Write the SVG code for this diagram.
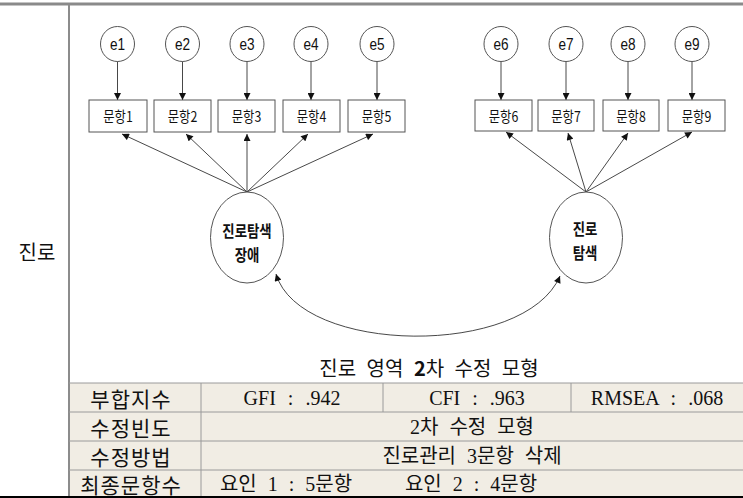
<svg xmlns="http://www.w3.org/2000/svg" width="743" height="498" viewBox="0 0 743 498">
<style>
.err{fill:#fff;stroke:#555;stroke-width:1}
.box{fill:#fff;stroke:#555;stroke-width:1}
.lat{fill:#fff;stroke:#555;stroke-width:1}
.et{font-family:"Liberation Sans",Arial,sans-serif;font-size:17px;fill:#111;text-anchor:middle;dominant-baseline:central}
.bt{font-family:"Noto Sans CJK KR","Liberation Sans",sans-serif;font-size:14.5px;fill:#111;text-anchor:middle;dominant-baseline:central}
.lt{font-family:"Noto Sans CJK KR",sans-serif;font-size:16px;font-weight:bold;fill:#111;text-anchor:middle;dominant-baseline:central}
.conn line,.conn path{stroke:#333;stroke-width:0.9;fill:none}
.tk{font-family:"Noto Sans CJK KR",sans-serif;font-size:21px;fill:#111;text-anchor:middle;dominant-baseline:central;letter-spacing:1px}
.tl{font-family:"Liberation Serif","Noto Sans CJK KR",serif;font-size:20px;fill:#111;text-anchor:middle;dominant-baseline:central;word-spacing:7px}
.tm{font-family:"Liberation Serif","Noto Sans CJK KR",serif;font-size:20px;fill:#111;text-anchor:middle;dominant-baseline:central;word-spacing:6px}
.grid{stroke:#9a9a9a;stroke-width:1}
</style>
<defs>
<marker id="ah" viewBox="0 0 10 10" refX="10" refY="5" markerWidth="8" markerHeight="7" markerUnits="userSpaceOnUse" orient="auto-start-reverse">
<path d="M0,0 L10,5 L0,10 z" fill="#111"/>
</marker>
</defs>

<!-- frame -->
<rect x="0" y="2.5" width="743" height="3" fill="#8a8a8a"/>
<rect x="69" y="383" width="674" height="113" fill="#f1ede4"/>
<line x1="69" y1="5" x2="69" y2="496" stroke="#8c8c8c" stroke-width="2"/>
<g class="grid">
<line x1="69" y1="383" x2="743" y2="383"/>
<line x1="69" y1="412" x2="743" y2="412"/>
<line x1="69" y1="441" x2="743" y2="441"/>
<line x1="69" y1="470" x2="743" y2="470"/>
<line x1="201" y1="383" x2="201" y2="496"/>
<line x1="383" y1="383" x2="383" y2="412"/>
<line x1="571" y1="383" x2="571" y2="412"/>
</g>
<rect x="0" y="496" width="743" height="2" fill="#000"/>

<text x="37" y="251" class="tk" style="font-size:20px;letter-spacing:0">진로</text>

<!-- connectors -->
<g class="conn" id="connectors">
<line x1="117.5" y1="61" x2="117.5" y2="100" marker-end="url(#ah)"/>
<line x1="182.5" y1="61" x2="182.5" y2="100" marker-end="url(#ah)"/>
<line x1="247" y1="61" x2="247" y2="100" marker-end="url(#ah)"/>
<line x1="311" y1="61" x2="311" y2="100" marker-end="url(#ah)"/>
<line x1="377" y1="61" x2="377" y2="100" marker-end="url(#ah)"/>
<line x1="501" y1="61" x2="501" y2="100" marker-end="url(#ah)"/>
<line x1="566" y1="61" x2="566" y2="100" marker-end="url(#ah)"/>
<line x1="628" y1="61" x2="628" y2="100" marker-end="url(#ah)"/>
<line x1="692" y1="61" x2="692" y2="100" marker-end="url(#ah)"/>

<line x1="247" y1="192" x2="122" y2="134" marker-end="url(#ah)"/>
<line x1="247" y1="192" x2="186" y2="134" marker-end="url(#ah)"/>
<line x1="247" y1="192" x2="247" y2="134" marker-end="url(#ah)"/>
<line x1="247" y1="192" x2="308" y2="134" marker-end="url(#ah)"/>
<line x1="247" y1="192" x2="373" y2="134" marker-end="url(#ah)"/>

<line x1="586" y1="192" x2="506" y2="132" marker-end="url(#ah)"/>
<line x1="586" y1="192" x2="568" y2="133" marker-end="url(#ah)"/>
<line x1="586" y1="192" x2="628" y2="133" marker-end="url(#ah)"/>
<line x1="586" y1="192" x2="692" y2="132" marker-end="url(#ah)"/>

<path d="M276,274 C300,355 525,358 560,276" marker-start="url(#ah)" marker-end="url(#ah)"/>
</g>

<!-- error nodes -->
<g id="e1"><ellipse class="err" cx="117.5" cy="44" rx="17" ry="17.5"/><text class="et" transform="translate(117.5,44) scale(0.8,1)">e1</text></g>
<g id="e2"><ellipse class="err" cx="182.5" cy="44" rx="17" ry="17.5"/><text class="et" transform="translate(182.5,44) scale(0.8,1)">e2</text></g>
<g id="e3"><ellipse class="err" cx="247" cy="44" rx="17" ry="17.5"/><text class="et" transform="translate(247,44) scale(0.8,1)">e3</text></g>
<g id="e4"><ellipse class="err" cx="311" cy="44" rx="17" ry="17.5"/><text class="et" transform="translate(311,44) scale(0.8,1)">e4</text></g>
<g id="e5"><ellipse class="err" cx="377" cy="44" rx="17" ry="17.5"/><text class="et" transform="translate(377,44) scale(0.8,1)">e5</text></g>
<g id="e6"><ellipse class="err" cx="501" cy="44" rx="17" ry="17.5"/><text class="et" transform="translate(501,44) scale(0.8,1)">e6</text></g>
<g id="e7"><ellipse class="err" cx="566" cy="44" rx="17" ry="17.5"/><text class="et" transform="translate(566,44) scale(0.8,1)">e7</text></g>
<g id="e8"><ellipse class="err" cx="628" cy="44" rx="17" ry="17.5"/><text class="et" transform="translate(628,44) scale(0.8,1)">e8</text></g>
<g id="e9"><ellipse class="err" cx="692" cy="44" rx="17" ry="17.5"/><text class="et" transform="translate(692,44) scale(0.8,1)">e9</text></g>

<!-- item boxes -->
<g id="item1"><rect class="box" x="89" y="100" width="58" height="32"/><text class="bt" transform="translate(118,116) scale(0.85,1)">문항1</text></g>
<g id="item2"><rect class="box" x="154" y="100" width="57" height="32"/><text class="bt" transform="translate(182.5,116) scale(0.85,1)">문항2</text></g>
<g id="item3"><rect class="box" x="218" y="100" width="57" height="32"/><text class="bt" transform="translate(246.5,116) scale(0.85,1)">문항3</text></g>
<g id="item4"><rect class="box" x="283" y="100" width="57" height="32"/><text class="bt" transform="translate(311.5,116) scale(0.85,1)">문항4</text></g>
<g id="item5"><rect class="box" x="348" y="100" width="57" height="32"/><text class="bt" transform="translate(376.5,116) scale(0.85,1)">문항5</text></g>
<g id="item6"><rect class="box" x="475" y="100" width="57" height="31"/><text class="bt" transform="translate(503.5,115.5) scale(0.85,1)">문항6</text></g>
<g id="item7"><rect class="box" x="538" y="100" width="56" height="31"/><text class="bt" transform="translate(566,115.5) scale(0.85,1)">문항7</text></g>
<g id="item8"><rect class="box" x="603" y="100" width="56" height="31"/><text class="bt" transform="translate(631,115.5) scale(0.85,1)">문항8</text></g>
<g id="item9"><rect class="box" x="668" y="100" width="57" height="31"/><text class="bt" transform="translate(696.5,115.5) scale(0.85,1)">문항9</text></g>

<!-- latent -->
<g id="latent1"><ellipse class="lat" cx="247" cy="237.5" rx="36.5" ry="45.5"/><text class="lt" transform="translate(247,230) scale(0.84,1)">진로탐색</text><text class="lt" transform="translate(247,254) scale(0.84,1)">장애</text></g>
<g id="latent2"><ellipse class="lat" cx="586" cy="237.5" rx="36.5" ry="45.5"/><text class="lt" transform="translate(585,228) scale(0.84,1)">진로</text><text class="lt" transform="translate(585,252) scale(0.84,1)">탐색</text></g>

<!-- caption -->
<text x="429" y="367" class="tk" style="font-size:20px;letter-spacing:0;word-spacing:6px">진로 영역 <tspan font-weight="bold">2</tspan>차 수정 모형</text>

<!-- table texts -->
<text class="tk" x="131" y="397.5">부합지수</text>
<text class="tk" x="131" y="426.5">수정빈도</text>
<text class="tk" x="131" y="455.5">수정방법</text>
<text class="tk" x="131" y="483.5">최종문항수</text>
<text class="tl" x="292" y="397.5">GFI : .942</text>
<text class="tl" x="477" y="397.5">CFI : .963</text>
<text class="tl" x="657" y="397.5">RMSEA : .068</text>
<text class="tm" x="472" y="426.5">2차 수정 모형</text>
<text class="tm" x="472" y="455.5">진로관리 3문항 삭제</text>
<text class="tm" y="483.5"><tspan x="286">요인 1 : 5문항</tspan><tspan x="471">요인 2 : 4문항</tspan></text>
</svg>
